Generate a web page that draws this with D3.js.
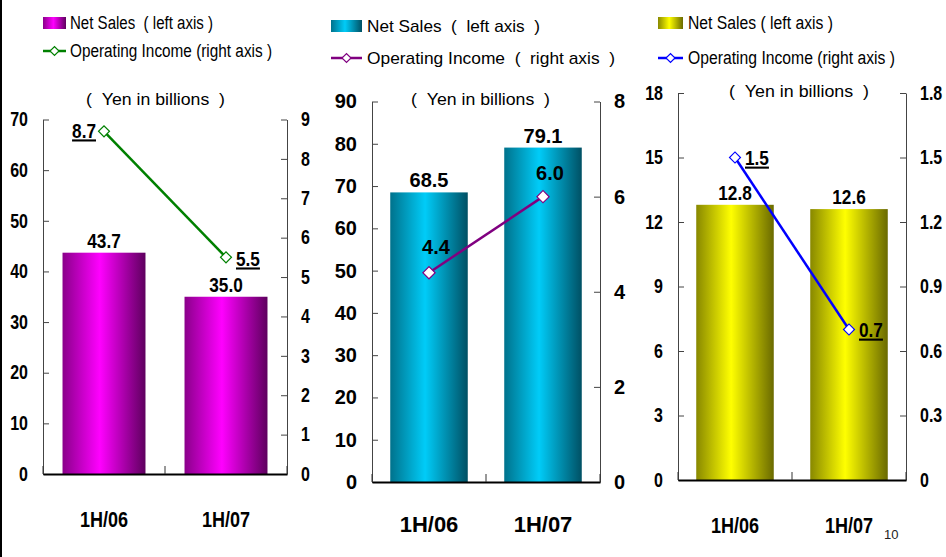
<!DOCTYPE html>
<html>
<head>
<meta charset="utf-8">
<script src="https://cdn.jsdelivr.net/npm/d3@7"></script>
<style>
  html, body { margin: 0; padding: 0; background: #fff; }
  svg { display: block; }
</style>
</head>
<body>
<svg id="chart" width="946" height="557"></svg>
<script>
// Half-year results for three business segments: net sales (bars, left axis)
// and operating income (line, right axis), yen in billions.
const categories = ["1H/06", "1H/07"];

const salesA = [43.7, 35.0];
const incomeA = [8.7, 5.5];
const leftTicksA = [0, 10, 20, 30, 40, 50, 60, 70];
const rightTicksA = [0, 1, 2, 3, 4, 5, 6, 7, 8, 9];

const salesB = [68.5, 79.1];
const incomeB = [4.4, 6.0];
const leftTicksB = [0, 10, 20, 30, 40, 50, 60, 70, 80, 90];
const rightTicksB = [0, 2, 4, 6, 8];

const salesC = [12.8, 12.6];
const incomeC = [1.5, 0.7];
const leftTicksC = [0, 3, 6, 9, 12, 15, 18];
const rightTicksC = [0, 0.3, 0.6, 0.9, 1.2, 1.5, 1.8];

const NB = "\u00a0";
const legendSales = [
  `Net Sales${NB}${NB}(${NB}left axis )`,
  `Net Sales${NB}${NB}(${NB}${NB}left axis${NB}${NB})`,
  "Net Sales ( left axis )"
];
const legendIncome = [
  "Operating Income (right axis )",
  `Operating Income${NB}${NB}(${NB}${NB}right axis${NB}${NB})`,
  "Operating Income (right axis )"
];
const unitLabel = `(${NB}${NB}Yen in billions${NB}${NB})`;
const pageNumber = "10";

const WIDE = "'Liberation Sans', Arial, sans-serif";
const K = 0.82; // horizontal squeeze that gives Liberation Sans a narrow cut

const svg = d3.select("#chart");
const defs = svg.append("defs");

// squeeze text horizontally about its own anchor point
function squeeze(sel, k) {
  sel.each(function () {
    const t = d3.select(this);
    const x = +t.attr("x") || 0;
    t.attr("x", x / k).attr("transform", `scale(${k},1)`);
  });
}

// slide edge on the left
svg.append("line").attr("x1", 1).attr("x2", 1).attr("y1", 0).attr("y2", 557)
  .attr("stroke", "#000").attr("stroke-width", 2);

function gradient(id, dark, mid, bright) {
  const g = defs.append("linearGradient").attr("id", id)
    .attr("x1", "0%").attr("x2", "100%").attr("y1", "0%").attr("y2", "0%");
  g.append("stop").attr("offset", "0%").attr("stop-color", mid);
  g.append("stop").attr("offset", "45%").attr("stop-color", bright);
  g.append("stop").attr("offset", "100%").attr("stop-color", dark);
}
gradient("gA", "#5e005e", "#8a008a", "#ff00ff");
gradient("gB", "#005064", "#00728c", "#00ccf8");
gradient("gC", "#6a6a00", "#888800", "#ffff00");

const panels = [
  {
    sales: salesA, income: incomeA, leftTicks: leftTicksA, rightTicks: rightTicksA,
    x0: 43, x1: 287, yBase: 474, yTop: 119.5, fill: "url(#gA)", line: "#008000",
    k: K, tickSize: 19.5, catSize: 22, valSize: 21, catY: 527,
    legendX: 43, legendY: 17, legendText: 70, legendSize: 18, unitX: 155.5, unitY: 105,
    salesW: 143, incomeW: 202, unitW: 139,
    swatchW: 23, swatchH: 12, lineLegendY: 51, incomeY: 57,
    underline: true, rightFmt: d => String(d),
    incomeLabel: [{dx: -8, dy: 7, anchor: "end"}, {dx: 10, dy: 9, anchor: "start"}],
    markerSize: 60
  },
  {
    sales: salesB, income: incomeB, leftTicks: leftTicksB, rightTicks: rightTicksB,
    x0: 372, x1: 600, yBase: 482, yTop: 101.5, fill: "url(#gB)", line: "#800080",
    k: 1, tickSize: 20, catSize: 22, valSize: 20, catY: 532,
    legendX: 331, legendY: 20, legendText: 367, legendSize: 17, unitX: 480.5, unitY: 105,
    salesW: 173, incomeW: 248, unitW: 139,
    swatchW: 31, swatchH: 12, lineLegendY: 58, incomeY: 64,
    underline: false, rightFmt: d => String(d),
    incomeLabel: [{dx: 7, dy: -19, anchor: "middle"}, {dx: 7, dy: -17, anchor: "middle"}],
    markerSize: 75
  },
  {
    sales: salesC, income: incomeC, leftTicks: leftTicksC, rightTicks: rightTicksC,
    x0: 678, x1: 906, yBase: 480, yTop: 93, fill: "url(#gC)", line: "#0000ff",
    k: K, tickSize: 19.5, catSize: 22, valSize: 21, catY: 533,
    legendX: 658, legendY: 17, legendText: 688, legendSize: 18, unitX: 799, unitY: 97,
    salesW: 145, incomeW: 207, unitW: 140,
    swatchW: 25, swatchH: 12, lineLegendY: 58, incomeY: 64,
    underline: true, rightFmt: d => d === 0 ? "0" : d3.format(".1f")(d),
    incomeLabel: [{dx: 10, dy: 8, anchor: "start"}, {dx: 10, dy: 8, anchor: "start"}],
    markerSize: 60
  }
];

const diamond = size => d3.symbol(d3.symbolSquare, size)();

panels.forEach((p, pi) => {
  const g = svg.append("g");
  const leftMax = d3.max(p.leftTicks), rightMax = d3.max(p.rightTicks);
  const x = d3.scaleBand().domain(categories).range([p.x0, p.x1]).paddingInner(0).paddingOuter(0);
  const yL = d3.scaleLinear().domain([0, leftMax]).range([p.yBase, p.yTop]);
  const yR = d3.scaleLinear().domain([0, rightMax]).range([p.yBase, p.yTop]);
  const barW = x.bandwidth() * 0.68;
  const cx = c => x(c) + x.bandwidth() / 2;

  // bars
  g.selectAll("rect.bar").data(p.sales).join("rect").attr("class", "bar")
    .attr("x", (d, i) => cx(categories[i]) - barW / 2)
    .attr("width", barW)
    .attr("y", d => yL(d))
    .attr("height", d => p.yBase - yL(d))
    .attr("fill", p.fill);

  // left axis
  const axL = g.append("g").attr("transform", `translate(${p.x0},0)`)
    .call(d3.axisLeft(yL).tickValues(p.leftTicks).tickSizeInner(-6).tickSizeOuter(0).tickPadding(15));
  axL.select(".domain").attr("stroke", "#444").attr("stroke-width", 1);
  axL.selectAll(".tick line").attr("stroke", "#444");
  axL.selectAll("text").attr("font-family", WIDE).attr("font-weight", "bold")
    .attr("font-size", p.tickSize).attr("fill", "#000").call(squeeze, p.k);

  // right axis
  const axR = g.append("g").attr("transform", `translate(${p.x1},0)`)
    .call(d3.axisRight(yR).tickValues(p.rightTicks).tickFormat(p.rightFmt).tickSizeInner(-6).tickSizeOuter(0).tickPadding(14));
  axR.select(".domain").attr("stroke", "#444").attr("stroke-width", 1);
  axR.selectAll(".tick line").attr("stroke", "#444");
  axR.selectAll("text").attr("font-family", WIDE).attr("font-weight", "bold")
    .attr("font-size", p.tickSize).attr("fill", "#000").call(squeeze, p.k);

  // category axis
  const axB = g.append("g").attr("transform", `translate(0,${p.yBase})`)
    .call(d3.axisBottom(x).tickSize(0).tickPadding(p.catY - p.yBase - 16));
  axB.select(".domain").attr("stroke", "#000").attr("stroke-width", 2);
  axB.selectAll("text").attr("font-family", WIDE).attr("font-weight", "bold")
    .attr("font-size", p.catSize).attr("fill", "#000").call(squeeze, p.k);
  // small dividers between/around categories
  const edges = [p.x0, x(categories[1]), p.x1];
  g.selectAll("line.div").data(edges).join("line").attr("class", "div")
    .attr("x1", d => d).attr("x2", d => d)
    .attr("y1", p.yBase).attr("y2", p.yBase - 8)
    .attr("stroke", "#333").attr("stroke-width", 1);

  // bar values
  g.selectAll("text.val").data(p.sales).join("text").attr("class", "val")
    .attr("x", (d, i) => cx(categories[i]))
    .attr("y", d => yL(d) - 5)
    .attr("text-anchor", "middle")
    .attr("font-family", WIDE).attr("font-weight", "bold").attr("font-size", p.valSize)
    .text(d => d3.format(".1f")(d))
    .call(squeeze, p.k);

  // income line
  const pts = p.income.map((d, i) => [cx(categories[i]), yR(d)]);
  g.append("path").attr("d", d3.line()(pts))
    .attr("fill", "none").attr("stroke", p.line).attr("stroke-width", 2.5);
  g.selectAll("path.mk").data(pts).join("path").attr("class", "mk")
    .attr("d", diamond(p.markerSize))
    .attr("transform", d => `translate(${d[0]},${d[1]}) rotate(45)`)
    .attr("fill", "#fff").attr("stroke", p.line).attr("stroke-width", 1.2);

  g.selectAll("text.inc").data(p.income).join("text").attr("class", "inc")
    .attr("x", (d, i) => pts[i][0] + p.incomeLabel[i].dx)
    .attr("y", (d, i) => pts[i][1] + p.incomeLabel[i].dy)
    .attr("text-anchor", (d, i) => p.incomeLabel[i].anchor)
    .attr("font-family", WIDE).attr("font-weight", "bold").attr("font-size", p.valSize)
    .style("text-decoration", p.underline ? "underline" : "none")
    .text(d => d3.format(".1f")(d))
    .call(squeeze, p.k);

  // legend
  g.append("rect").attr("x", p.legendX).attr("y", p.legendY)
    .attr("width", p.swatchW).attr("height", p.swatchH).attr("fill", p.fill);
  g.append("text").attr("x", p.legendText).attr("y", p.legendY + p.swatchH)
    .attr("font-family", WIDE).attr("font-size", p.legendSize)
    .attr("textLength", p.salesW).attr("lengthAdjust", "spacingAndGlyphs")
    .text(legendSales[pi]);
  g.append("line").attr("x1", p.legendX).attr("x2", p.legendX + p.swatchW)
    .attr("y1", p.lineLegendY).attr("y2", p.lineLegendY)
    .attr("stroke", p.line).attr("stroke-width", 2.5);
  g.append("path").attr("d", diamond(40))
    .attr("transform", `translate(${p.legendX + p.swatchW / 2},${p.lineLegendY}) rotate(45)`)
    .attr("fill", "#fff").attr("stroke", p.line).attr("stroke-width", 1.2);
  g.append("text").attr("x", p.legendText).attr("y", p.incomeY)
    .attr("font-family", WIDE).attr("font-size", p.legendSize)
    .attr("textLength", p.incomeW).attr("lengthAdjust", "spacingAndGlyphs")
    .text(legendIncome[pi]);

  g.append("text").attr("x", p.unitX - p.unitW / 2).attr("y", p.unitY)
    .attr("font-family", WIDE).attr("font-size", 17)
    .attr("textLength", p.unitW).attr("lengthAdjust", "spacingAndGlyphs")
    .text(unitLabel);
});

svg.append("text").attr("x", 884).attr("y", 539)
  .attr("font-family", WIDE).attr("font-size", 13).attr("fill", "#222")
  .text(pageNumber);
</script>
</body>
</html>
